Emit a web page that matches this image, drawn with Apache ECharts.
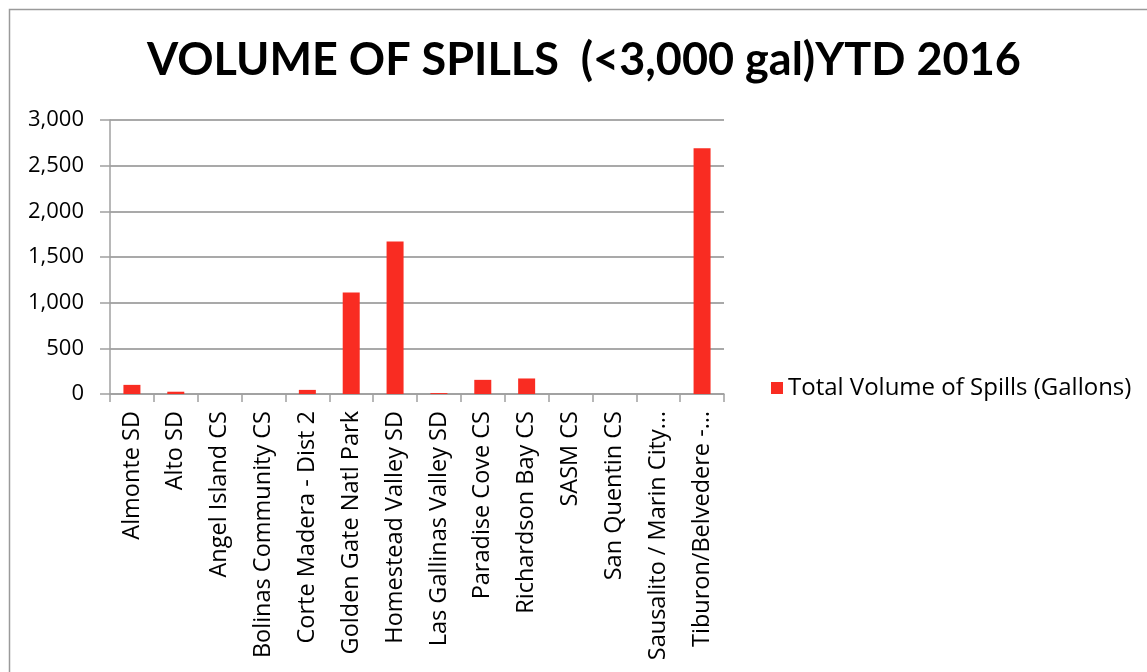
<!DOCTYPE html>
<html>
<head>
<meta charset="utf-8">
<script src="https://cdn.jsdelivr.net/npm/echarts@6/dist/echarts.min.js"></script>
<style>
  html, body { margin: 0; padding: 0; background: #fff; }
  #main { width: 1147px; height: 672px; }
</style>
</head>
<body>
<div id="main"></div>
<script>
var categories = ['Almonte SD', 'Alto SD', 'Angel Island CS', 'Bolinas Community CS',
    'Corte Madera - Dist 2', 'Golden Gate Natl Park', 'Homestead Valley SD',
    'Las Gallinas Valley SD', 'Paradise Cove CS', 'Richardson Bay CS', 'SASM CS',
    'San Quentin CS', 'Sausalito / Marin City…', 'Tiburon/Belvedere -…'];
var spillVolumes = [100, 25, 0, 0, 45, 1110, 1670, 10, 155, 170, 0, 0, 0, 2690];
var seriesName = 'Total Volume of Spills (Gallons)';

var myChart = echarts.init(document.getElementById('main'));

var option = {
    backgroundColor: '#fff',
    animation: false,
    textStyle: { fontFamily: 'Open Sans', color: '#000' },
    title: {
        text: 'VOLUME OF SPILLS  (<3,000 gal)YTD 2016',
        left: 142,
        top: 33,
        textStyle: { fontFamily: 'Lato', fontWeight: 'bold', fontSize: 45, color: '#000' }
    },
    graphic: [{
        type: 'rect',
        left: 7, top: 7,
        shape: { width: 1200, height: 700 },
        style: { fill: 'none', stroke: '#9a9a9a', lineWidth: 1.5 }
    }],
    legend: {
        data: [seriesName],
        left: 766,
        top: 371,
        itemWidth: 12,
        itemHeight: 12,
        itemGap: 8,
        icon: 'rect',
        textStyle: { fontSize: 24, color: '#000', fontFamily: 'Open Sans' }
    },
    grid: { left: 110, right: 423, top: 120, bottom: 278 },
    xAxis: {
        type: 'category',
        data: categories,
        axisLine: { lineStyle: { color: '#a0a0a0', width: 1.5 } },
        axisTick: { show: true, length: 8, lineStyle: { color: '#a0a0a0', width: 1.5 } },
        axisLabel: { rotate: 90, interval: 0, fontSize: 23.5, color: '#000', margin: 17 }
    },
    yAxis: {
        type: 'value',
        min: 0,
        max: 3000,
        interval: 500,
        axisLine: { show: true, lineStyle: { color: '#a0a0a0', width: 1.5 } },
        axisTick: { show: true, length: 10, lineStyle: { color: '#a0a0a0', width: 1.5 } },
        splitLine: { lineStyle: { color: '#8c8c8c', width: 1.5 } },
        axisLabel: {
            fontSize: 22,
            color: '#000',
            margin: 26,
            formatter: function (v) { return v.toLocaleString('en-US'); }
        }
    },
    series: [{
        name: seriesName,
        type: 'bar',
        data: spillVolumes,
        barWidth: 17,
        itemStyle: { color: '#f92c22' }
    }]
};

myChart.setOption(option);
</script>
</body>
</html>
